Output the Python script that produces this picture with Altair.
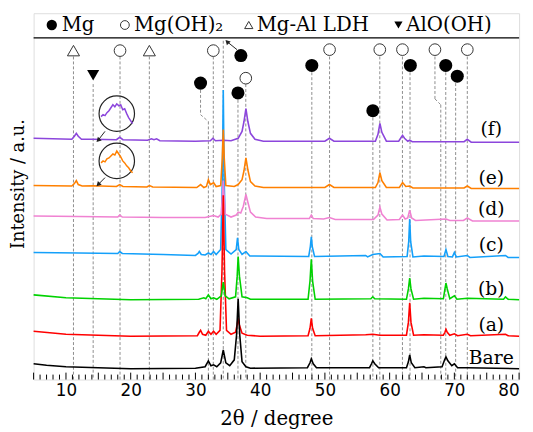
import altair as alt
import pandas as pd

SERIF = "DejaVu Serif"
SANS = "DejaVu Sans"

# ---------------- trace data (2theta in degree, intensity in a.u.) ----------------
bare_x = [5, 7, 10, 15, 20, 30, 31.5, 32.0, 32.4, 32.8, 33.3, 33.9, 34.3, 34.7, 35.3, 36.0, 36.35, 36.6, 36.85, 37.2, 37.8, 38.5,
          47.3, 47.7, 47.9, 48.2, 48.7, 56.9, 57.2, 57.4, 57.7, 58.3, 62.6, 62.9, 63.1, 63.35, 63.9, 65.3, 65.6,
          68.1, 68.5, 68.7, 69.0, 69.6, 70.0, 70.5, 72.0, 80]
bare_y = [16, 14.5, 13, 12, 11, 11.5, 13, 19, 14, 15, 13, 17, 30, 17, 14, 20, 45, 82, 45, 18, 13, 11.5,
          12, 17, 21, 16, 12, 12, 16, 19, 16, 12, 12, 18, 25, 17, 12, 13, 12,
          13, 20, 23, 19, 14, 16, 12, 12, 11]

a_x = [5, 10, 20, 30.3, 30.6, 30.8, 31.1, 31.6, 32.0, 32.4, 32.8, 33.2, 33.8, 34.1, 34.3, 34.5, 34.8, 35.5, 36.2, 36.45, 36.6, 36.8,
       37.2, 38, 40, 47.4, 47.7, 47.9, 48.1, 48.5, 56.3, 57.4, 58.5, 62.6, 62.9, 63.1, 63.3, 63.7, 65.3, 68.3, 68.55, 68.7,
       68.9, 69.3, 70.0, 70.5, 72.0, 72.5, 77.9, 78.3, 80]
a_y = [49, 46, 44, 44.5, 48, 50, 46, 45, 49, 46, 49, 46, 50, 110, 187, 110, 50, 46, 48, 56, 62, 55,
       47, 45, 44, 44.5, 52, 62, 52, 44.5, 45.5, 46, 45, 45, 58, 78, 58, 45, 45.5, 45, 48, 51,
       48, 45, 46.5, 44.5, 46, 44.5, 46, 44.5, 44]

b_x = [5, 10, 20, 30.5, 31.3, 31.6, 32.0, 32.4, 32.8, 33.3, 34.0, 34.3, 34.6, 35.2, 36.2, 36.45, 36.6, 36.8, 37.2, 38.0, 38.5,
       47.4, 47.7, 47.9, 48.1, 48.5, 57.1, 57.4, 57.7, 62.6, 62.9, 63.1, 63.3, 63.7, 65.3, 68.3, 68.55, 68.7, 68.9, 69.3,
       70.0, 70.4, 72, 77.6, 77.9, 78.3, 80]
b_y = [86, 83, 81, 81.5, 83, 82, 86, 82, 83, 81.5, 85, 99, 85, 82, 84, 105, 125, 105, 84, 83, 81.5,
       81.5, 100, 122, 100, 81.5, 82, 84, 82, 81.5, 92, 103, 92, 81.5, 82.5, 82, 92, 98, 92, 82,
       85, 81.5, 82.5, 81.5, 84, 81.5, 81]

c_x = [5, 12, 18.0, 18.3, 18.7, 25, 30, 30.4, 30.6, 30.9, 31.5, 32.0, 32.4, 32.8, 33.2, 33.9, 34.15, 34.3, 34.45, 34.7, 35.5,
       36.3, 36.5, 36.7, 37.2, 37.8, 38.4, 47.5, 47.75, 47.9, 48.05, 48.4, 56.3, 56.6, 57.4, 58.5, 59, 62.7, 62.95, 63.1,
       63.25, 63.6, 65.3, 68.4, 68.7, 69.0, 69.7, 70.0, 70.3, 72.0, 72.4, 77.9, 78.3, 80]
c_y = [129, 128.5, 128, 130, 128, 127, 126, 128, 130, 127, 126.5, 128.5, 127, 130, 127, 132, 200, 294, 200, 132, 127.5,
       132, 144, 132, 127, 130, 125.5, 125, 135, 145, 135, 125, 126, 124.5, 127, 128, 124.5, 125, 140, 163,
       140, 124.5, 125.5, 125, 132, 125, 124.5, 129, 124.5, 126, 124, 126, 124, 124]

d_x = [5, 12, 18.0, 18.3, 18.7, 25, 31.5, 32.8, 33.5, 34.0, 34.2, 34.3, 34.4, 34.6, 35.5, 36.3, 36.6, 37.0, 37.4, 37.8, 38.1,
       38.5, 39.3, 41, 47.6, 47.9, 48.2, 49.8, 50.7, 51.6, 57.5, 58.2, 58.5, 58.8, 59.6, 61.5, 62.0, 62.4, 62.8, 63.1,
       63.4, 64, 68.7, 69.3, 71.4, 72.0, 72.8, 80]
d_y = [166, 165.5, 165, 167, 165, 164.5, 164.5, 166.5, 165, 168, 190, 202, 190, 168, 165, 167, 170, 169, 176, 188, 180,
       170, 165, 163.5, 163.5, 167, 163.5, 163, 164.5, 162.5, 162.5, 167, 175, 168, 162, 162.5, 167, 163, 164, 172,
       164, 161.5, 163, 161.5, 161.5, 164, 161, 161]

e_x = [5, 10.9, 11.3, 11.6, 11.9, 12.5, 14.2, 17.8, 18.3, 18.8, 22.5, 22.9, 23.4, 30.2, 30.8, 31.3, 31.7, 32.0, 32.3, 32.6,
       32.8, 33.2, 33.9, 34.15, 34.3, 34.45, 34.7, 36.0, 36.6, 37.2, 37.5, 37.8, 38.1, 38.5, 39.2, 40.5, 50.0, 50.7, 51.4,
       57.8, 58.2, 58.5, 58.8, 59.5, 61.5, 62.0, 62.5, 63.1, 63.6, 71.5, 72.0, 72.6, 80]
e_y = [197, 196.5, 199, 202, 198, 196.5, 196.8, 196, 198, 196, 195.5, 197, 195.5, 195, 198, 195, 196, 203, 198, 199,
       200, 196, 197, 225, 254, 225, 197, 196, 198, 203, 212, 225, 213, 201, 196.5, 195, 195, 198, 195,
       195, 200, 210, 202, 195, 195, 200, 196, 196.5, 194.5, 194.5, 196.5, 194, 194]

f_x = [5, 10.9, 11.3, 11.6, 11.9, 12.4, 14.2, 17.8, 18.3, 18.8, 22.6, 23.2, 23.6, 24.0, 24.5, 30, 32.3, 32.7, 33.1, 34.3,
       35.5, 36.6, 37.2, 37.5, 37.8, 38.1, 38.5, 39.2, 40.5, 50.0, 50.7, 51.4, 57.8, 58.2, 58.5, 58.8, 59.5, 61.4, 61.8,
       62.0, 62.3, 62.8, 63.1, 63.5, 71.5, 72.0, 72.6, 80]
f_y = [245, 244, 247, 250, 247, 244, 244, 243.5, 246, 243.5, 243, 244.5, 243.5, 244.5, 242.5, 242, 242.5, 245, 242.5, 243,
       242.5, 245, 252, 262, 275, 262, 250, 244, 242, 242, 245, 242, 242, 249, 260, 251, 242, 242, 246,
       248, 245, 242, 243, 241.5, 241.5, 244, 241, 241]

# inset (magnified) curves
inset_x = [15.42, 15.73, 16.03, 16.33, 16.64, 16.94, 17.25, 17.55, 17.85, 18.16, 18.46, 18.77, 19.07, 19.38, 19.68, 19.98, 20.29]
inset_f_y = [267, 269, 268, 271, 273, 276, 279, 277, 280, 278, 279, 274, 275, 270, 266, 263, 260]
inset_e_y = [220, 222, 221, 224, 225, 227, 229, 228, 232, 229, 226, 222, 220, 217, 215, 212, 210]

traces = [  # drawn in this order (bottom first)
    ("(c)", c_x, c_y, "#14A0FA"),
    ("(f)", f_x, f_y, "#8C46DC"),
    ("(e)", e_x, e_y, "#FF8000"),
    ("(d)", d_x, d_y, "#F082D2"),
    ("(a)", a_x, a_y, "#FF0000"),
    ("(b)", b_x, b_y, "#00D200"),
    ("Bare", bare_x, bare_y, "#000000"),
]

label_names = ["(f)", "(e)", "(d)", "(c)", "(b)", "(a)", "Bare"]
label_y = [254, 205, 173, 137, 92, 55, 22]
label_x = 75.7

# phase markers
mg_x = [37.02, 30.79, 36.57, 47.98, 57.41, 63.2, 68.67, 70.45]
mg_y = [329, 301, 291, 319, 273, 319, 319, 308]
mgoh_x = [18.35, 32.76, 37.78, 50.72, 58.48, 61.98, 67.0, 72.0]
mgoh_y = [334, 334, 306, 335, 335, 335, 335, 335]
ldh_x = [11.16, 22.88]
ldh_y = [334, 334]
alooh_x = [14.2]
alooh_y = [309]

# dashed guide segments (x1, y1, x2, y2)
segments = [
    (11.16, 328, 11.16, 0), (14.2, 300, 14.2, 0), (18.35, 328, 18.35, 0), (22.88, 328, 22.88, 0),
    (30.79, 294, 30.79, 269), (30.79, 269, 32.0, 262), (32.0, 262, 32.0, 0),
    (32.76, 328, 32.76, 0), (34.3, 344, 34.3, 0), (36.57, 284, 36.57, 0), (37.78, 300, 37.78, 0),
    (47.98, 312, 47.98, 0), (50.72, 328, 50.72, 0), (57.41, 266, 57.41, 0), (58.48, 328, 58.48, 0),
    (61.98, 328, 61.98, 0), (63.15, 312, 63.15, 0), (67.0, 328, 67.0, 285), (67.0, 285, 67.9, 279),
    (67.9, 279, 67.9, 0), (68.67, 312, 68.67, 0), (70.2, 301, 70.2, 0), (72.0, 328, 72.0, 0),
]

# arrows (tail x, tail y, head x, head y, head angle)
arrows = [(16.03, 252, 14.97, 243, 225), (16.03, 205, 14.97, 198, 225), (36.42, 335, 34.9, 343, 315)]

# legend
leg_sym_x = [7.81, 19.1, 38.24, 61.36]
leg_text_x = [9.34, 20.5, 39.46, 62.58]
leg_texts = ["Mg", "Mg(OH)₂", "Mg-Al LDH", "AlO(OH)"]
leg_y = 360
leg_line_y = 347

ticks = list(range(5, 81))

# ---------------- chart ----------------
xs = alt.Scale(domain=[5, 80], nice=False, zero=False)
ys = alt.Scale(domain=[0, 372], nice=False, zero=False)
xaxis = alt.Axis(values=[10, 20, 30, 40, 50, 60, 70, 80], tickSize=0, domain=False, grid=False,
                 labelFont=SANS, labelFontSize=17, labelColor="black", labelPadding=3,
                 title="2θ / degree", titleFont=SERIF, titleFontSize=20, titleFontWeight="normal",
                 titleColor="black", titleY=40, titleBaseline="middle")
yaxis = alt.Axis(labels=False, ticks=False, domain=False, grid=False,
                 title="Intensity / a.u.", titleFont=SERIF, titleFontSize=18, titleFontWeight="normal",
                 titleColor="black", titleX=-15, titleY=173, titleBaseline="middle", titleAngle=270)


def X(f):
    return alt.X(f, type="quantitative", scale=xs, axis=xaxis)


def Y(f):
    return alt.Y(f, type="quantitative", scale=ys, axis=yaxis)


layers = []

seg_df = pd.DataFrame(segments, columns=["x", "y", "x2", "y2"])
layers.append(alt.Chart(seg_df).mark_rule(color="#707070", strokeWidth=0.8, strokeDash=[3, 2]).encode(
    x=X("x"), y=Y("y"), x2="x2", y2="y2"))

for name, xv, yv, col in traces:
    df = pd.DataFrame({"x": xv, "y": yv})
    layers.append(alt.Chart(df).mark_line(color=col, strokeWidth=1.6, interpolate="linear").encode(
        x=X("x"), y=Y("y"), order="x:Q"))

# insets
inset_c = pd.DataFrame({"x": [17.85, 17.85], "y": [270, 222]})
layers.append(alt.Chart(inset_c).mark_point(shape="circle", size=1296, filled=False, color="#222",
                                            strokeWidth=1.2, opacity=1).encode(x=X("x"), y=Y("y")))
layers.append(alt.Chart(pd.DataFrame({"x": inset_x, "y": inset_f_y})).mark_line(color="#8C46DC", strokeWidth=1.5).encode(
    x=X("x"), y=Y("y")))
layers.append(alt.Chart(pd.DataFrame({"x": inset_x, "y": inset_e_y})).mark_line(color="#FF8000", strokeWidth=1.5).encode(
    x=X("x"), y=Y("y")))

arr_df = pd.DataFrame(arrows, columns=["x", "y", "x2", "y2", "ang"])
layers.append(alt.Chart(arr_df).mark_rule(color="#222", strokeWidth=1).encode(
    x=X("x"), y=Y("y"), x2="x2", y2="y2"))
layers.append(alt.Chart(arr_df).mark_point(shape="triangle-up", size=30, filled=True, color="#222", opacity=1).encode(
    x=X("x2"), y=Y("y2"), angle=alt.Angle("ang:Q", scale=None)))

# phase markers
layers.append(alt.Chart(pd.DataFrame({"x": mg_x, "y": mg_y})).mark_point(
    shape="circle", size=175, filled=True, color="black", opacity=1).encode(x=X("x"), y=Y("y")))
layers.append(alt.Chart(pd.DataFrame({"x": mgoh_x, "y": mgoh_y})).mark_point(
    shape="circle", size=140, filled=True, fill="white", stroke="#333", strokeWidth=1, opacity=1).encode(x=X("x"), y=Y("y")))
layers.append(alt.Chart(pd.DataFrame({"x": ldh_x, "y": ldh_y})).mark_point(
    shape="triangle-up", size=150, filled=True, fill="white", stroke="#333", strokeWidth=1, opacity=1).encode(x=X("x"), y=Y("y")))
layers.append(alt.Chart(pd.DataFrame({"x": alooh_x, "y": alooh_y})).mark_point(
    shape="triangle-down", size=150, filled=True, color="black", opacity=1).encode(x=X("x"), y=Y("y")))

# trace labels
lab_df = pd.DataFrame({"x": [label_x] * len(label_names), "y": label_y, "t": label_names})
layers.append(alt.Chart(lab_df).mark_text(font=SERIF, fontSize=19, color="black", align="center", baseline="middle").encode(
    x=X("x"), y=Y("y"), text="t:N"))

# legend box
layers.append(alt.Chart(pd.DataFrame({"y": [leg_line_y]})).mark_rule(color="black", strokeWidth=1.2).encode(y=Y("y")))
layers.append(alt.Chart(pd.DataFrame({"x": [leg_sym_x[0]], "y": [leg_y]})).mark_point(
    shape="circle", size=110, filled=True, color="black", opacity=1).encode(x=X("x"), y=Y("y")))
layers.append(alt.Chart(pd.DataFrame({"x": [leg_sym_x[1]], "y": [leg_y]})).mark_point(
    shape="circle", size=80, filled=False, color="#333", strokeWidth=1, opacity=1).encode(x=X("x"), y=Y("y")))
layers.append(alt.Chart(pd.DataFrame({"x": [leg_sym_x[2]], "y": [leg_y]})).mark_point(
    shape="triangle-up", size=70, filled=False, color="#333", strokeWidth=1, opacity=1).encode(x=X("x"), y=Y("y")))
layers.append(alt.Chart(pd.DataFrame({"x": [leg_sym_x[3]], "y": [leg_y]})).mark_point(
    shape="triangle-down", size=70, filled=True, color="black", opacity=1).encode(x=X("x"), y=Y("y")))
leg_df = pd.DataFrame({"x": leg_text_x, "y": [leg_y] * 4, "t": leg_texts})
layers.append(alt.Chart(leg_df).mark_text(font=SERIF, fontSize=20, color="black", align="left", baseline="middle").encode(
    x=X("x"), y=Y("y"), text="t:N"))

# inward ticks on the bottom axis
tick_df = pd.DataFrame({"x": ticks, "major": [t % 5 == 0 for t in ticks]})
layers.append(alt.Chart(tick_df).transform_filter("datum.major").mark_rule(color="black", strokeWidth=1).encode(
    x=X("x"), y=alt.value(372), y2=alt.value(365)))
layers.append(alt.Chart(tick_df).transform_filter("!datum.major").mark_rule(color="black", strokeWidth=1).encode(
    x=X("x"), y=alt.value(372), y2=alt.value(367)))

chart = alt.layer(*layers).properties(
    width=493, height=372,
    autosize=alt.AutoSizeParams(type="none"),
    padding={"left": 26, "top": 2, "right": 6, "bottom": 50},
).configure_view(stroke="black", strokeWidth=1.5).configure(background="white")

chart.save("out.html", embed_options={"renderer": "svg", "actions": False})
